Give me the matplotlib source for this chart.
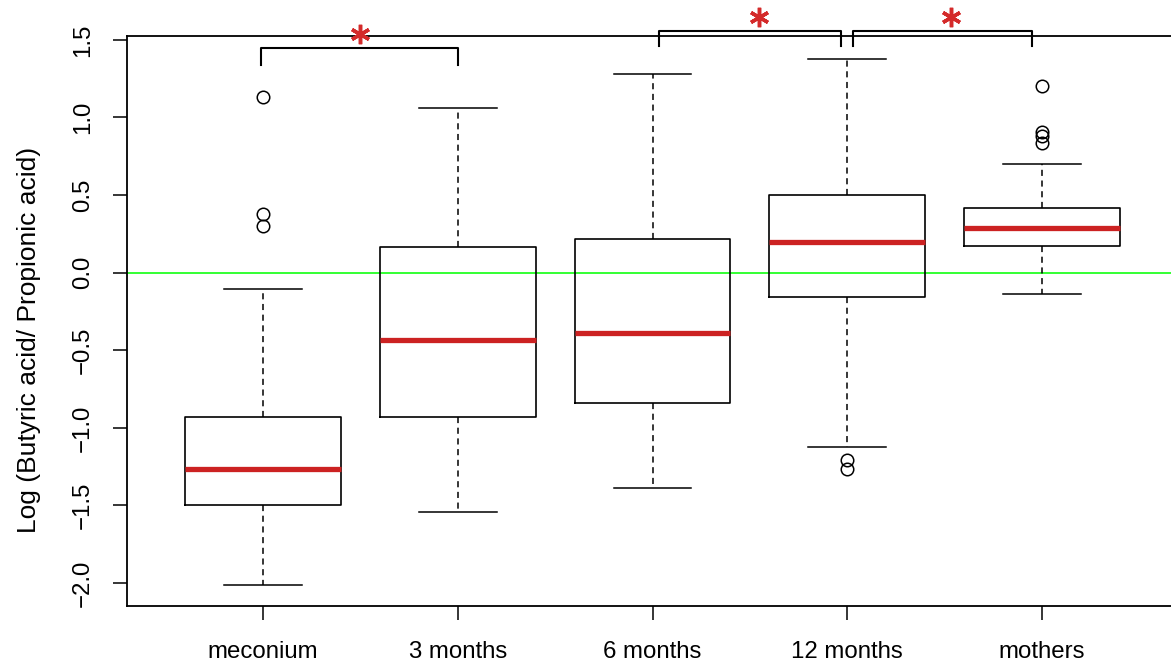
import matplotlib
matplotlib.use("Agg")
import matplotlib.pyplot as plt

plt.rcParams['font.family'] = ['Liberation Sans', 'DejaVu Sans']

groups = ["meconium", "3 months", "6 months", "12 months", "mothers"]
whislo = [-2.015, -1.543, -1.389, -1.125, -0.135]
q1 = [-1.494, -0.932, -0.842, -0.154, 0.174]
med = [-1.268, -0.437, -0.392, 0.199, 0.289]
q3 = [-0.927, 0.167, 0.219, 0.502, 0.418]
whishi = [-0.103, 1.061, 1.282, 1.380, 0.703]
fliers = [[1.135, 0.378, 0.302], [], [], [-1.209, -1.262], [1.203, 0.905, 0.882, 0.838]]

comparisons = [(1, 2), (3, 4), (4, 5)]
y_ticks = [-2.0, -1.5, -1.0, -0.5, 0.0, 0.5, 1.0, 1.5]

fig = plt.figure(figsize=(11.71, 6.62), dpi=100)
ax = fig.add_axes([127 / 1171, 1 - 606 / 662, (1178 - 127) / 1171, (606 - 36) / 662])

stats = []
for i, g in enumerate(groups):
    stats.append(dict(label=g, whislo=whislo[i], q1=q1[i], med=med[i], q3=q3[i],
                      whishi=whishi[i], fliers=fliers[i]))

ax.axhline(0, color="#33ff33", lw=1.4, zorder=1)

ax.bxp(stats, positions=range(1, 6), widths=0.8, showfliers=True,
       boxprops=dict(color="black", lw=1.2),
       medianprops=dict(color="#cc2222", lw=3.8, solid_capstyle="butt"),
       whiskerprops=dict(color="black", lw=1.1, linestyle=(0, (4, 3))),
       capprops=dict(color="black", lw=1.1),
       capwidths=0.4,
       flierprops=dict(marker="o", markerfacecolor="none", markeredgecolor="black",
                       markersize=9, markeredgewidth=1.1, linestyle="none"),
       zorder=2)

ax.set_xlim(0.3, 5.7)
ax.set_ylim(-2.148, 1.525)
ax.set_yticks(y_ticks)
ax.set_yticklabels([f"{v:.1f}".replace("-", "\u2212") for v in y_ticks], rotation=90, va="center")
ax.set_xticks(range(1, 6))
ax.set_xticklabels(groups)
ax.tick_params(axis="x", length=10, width=1.1, labelsize=17.3, pad=15, color="black")
ax.tick_params(axis="y", length=10, width=1.1, labelsize=17.3, pad=14, color="black")
for s in ax.spines.values():
    s.set_linewidth(1.3)
fig.text(29 / 1171, 1 - 340 / 662, "Log (Butyric acid/ Propionic acid)", fontsize=19,
         rotation=90, ha="center", va="center")

# significance brackets
br = [
    (0.99, 2.0, 1.445, 1.339, 1.499, 1.539),
    (3.035, 3.97, 1.558, 1.461, 3.547, 1.648),
    (4.03, 4.95, 1.558, 1.461, 4.532, 1.648),
]
for (x0, x1, ytop, ybot, xs, ys) in br:
    ax.plot([x0, x0, x1, x1], [ybot, ytop, ytop, ybot], color="black", lw=1.5,
            clip_on=False, zorder=5)
    ax.plot([xs], [ys], marker=(6, 2, 0), markersize=14, markeredgewidth=2.5,
            color="#d42a2a", linestyle="none", clip_on=False, zorder=6)

fig.savefig("out.png", dpi=100)
